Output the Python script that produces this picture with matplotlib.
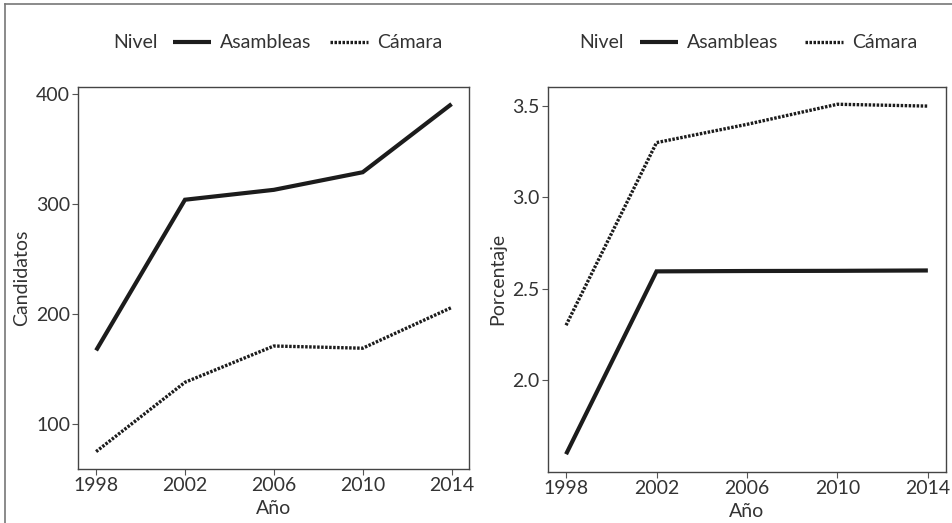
import numpy as np
import matplotlib as mpl
mpl.use('Agg')
import matplotlib.pyplot as plt
from matplotlib.lines import Line2D

plt.rcParams['font.family'] = ['Lato', 'DejaVu Sans']

years = [1998, 2002, 2006, 2010, 2014]
series = ["Asambleas", "Cámara"]

# candidatos por nivel
cand_asambleas = [167, 304, 313, 329, 391]
cand_camara = [75, 138, 171, 169, 206]

# porcentaje por nivel
pct_asambleas = [1.594, 2.595, 2.597, 2.598, 2.600]
pct_camara = [2.30, 3.30, 3.40, 3.51, 3.50]

ink = '#1c1c1c'
txt = '#333333'
fs = 14
dots = (0, (0.75, 0.45))

fig = plt.figure(figsize=(9.53, 5.23), dpi=100)

# outer frame, only the top and left edges show in the original
fig.add_artist(Line2D([0.005, 0.005], [0, 0.993], transform=fig.transFigure, color='#777777', lw=1.2))
fig.add_artist(Line2D([0.005, 1], [0.993, 0.993], transform=fig.transFigure, color='#777777', lw=1.2))

ax1 = fig.add_axes([0.0822, 0.1033, 0.4103, 0.731])
ax2 = fig.add_axes([0.575, 0.0981, 0.4176, 0.736])

panels = [
    (ax1, cand_asambleas, cand_camara, 'Candidatos', [100, 200, 300, 400], ['100', '200', '300', '400']),
    (ax2, pct_asambleas, pct_camara, 'Porcentaje', [2.0, 2.5, 3.0, 3.5], ['2.0', '2.5', '3.0', '3.5']),
]

for ax, a, c, ylab, yt, ytl in panels:
    ax.plot(years, a, color=ink, lw=3.0, solid_capstyle='butt', solid_joinstyle='miter', label=series[0])
    ax.plot(years, c, color=ink, lw=2.4, linestyle=dots, dash_capstyle='butt', label=series[1])
    lo = min(min(a), min(c))
    hi = max(max(a), max(c))
    pad = (hi - lo) * 0.05
    ax.set_ylim(lo - pad, hi + pad)
    ax.set_xlim(1998 - 0.8, 2014 + 0.8)
    ax.set_xticks(years)
    ax.set_xticklabels([str(y) for y in years])
    ax.set_yticks(yt)
    ax.set_yticklabels(ytl)
    ax.set_ylabel(ylab, fontsize=fs, color=txt, labelpad=4)
    ax.set_xlabel('Año', fontsize=fs, color=txt, labelpad=4)
    ax.tick_params(length=4, width=0.8, color='#555555', labelsize=fs, labelcolor=txt, pad=2)
    for s in ax.spines.values():
        s.set_color('#444444')
        s.set_linewidth(1.0)

# legends: "Nivel" title on the left, keys in one row
fig.text(113 / 953, 1 - 43 / 523, 'Nivel', fontsize=fs, color=txt, va='center', ha='left')
fig.text(579 / 953, 1 - 43 / 523, 'Nivel', fontsize=fs, color=txt, va='center', ha='left')

h1, l1 = ax1.get_legend_handles_labels()
fig.legend(h1, l1, loc='center left', bbox_to_anchor=(173 / 953, 1 - 43 / 523), ncol=2, frameon=False,
           fontsize=fs, labelcolor=txt, borderpad=0, borderaxespad=0, handlelength=1.95,
           handletextpad=0.45, columnspacing=1.0)
h2, l2 = ax2.get_legend_handles_labels()
fig.legend(h2, l2, loc='center left', bbox_to_anchor=(640 / 953, 1 - 43 / 523), ncol=2, frameon=False,
           fontsize=fs, labelcolor=txt, borderpad=0, borderaxespad=0, handlelength=1.95,
           handletextpad=0.45, columnspacing=1.4)

fig.savefig('out.png', dpi=100)
